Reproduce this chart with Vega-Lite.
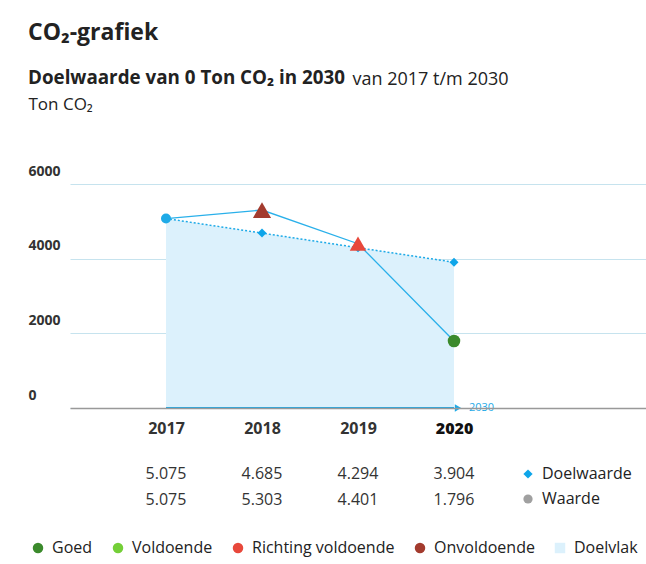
{
  "$schema": "https://vega.github.io/schema/vega-lite/v6.json",
  "background": "white",
  "padding": {"left": 28, "top": 22, "right": 0, "bottom": 8},
  "config": {
    "font": "Open Sans",
    "locale": {"number": {"decimal": ",", "thousands": ".", "grouping": [3], "currency": ["€", ""]}},
    "view": {"stroke": null},
    "axisY": {"tickCount": 3, "format": "d", "title": "Ton CO₂", "domain": false, "ticks": false,
      "grid": true, "gridColor": "#c6e3ee", "gridWidth": 1.2, "labelAlign": "left", "labelBaseline": "bottom", "labelPadding": 42,
      "labelOffset": -6, "labelFontSize": 14, "labelFontWeight": "bold", "labelColor": "#333333",
      "titleAngle": 0, "titleAlign": "left", "titleBaseline": "middle", "titleX": -42, "titleY": -80,
      "titleFontSize": 17, "titleFontWeight": "normal", "titleColor": "#222222"}
  },
  "title": {
    "text": "CO₂-grafiek",
    "subtitle": "Doelwaarde van 0 Ton CO₂ in 2030",
    "anchor": "start",
    "frame": "bounds",
    "fontSize": 23,
    "fontWeight": "bold",
    "color": "#222222",
    "subtitleFontSize": 18.8,
    "subtitleFontWeight": "bold",
    "subtitleColor": "#222222",
    "subtitlePadding": 24,
    "offset": -18
  },
  "datasets": {
    "co2": [
      {"jaar": 2017, "Doelwaarde": 5075, "Waarde": 5075, "status": "Start"},
      {"jaar": 2018, "Doelwaarde": 4685, "Waarde": 5303, "status": "Onvoldoende"},
      {"jaar": 2019, "Doelwaarde": 4294, "Waarde": 4401, "status": "Richting voldoende"},
      {"jaar": 2020, "Doelwaarde": 3904, "Waarde": 1796, "status": "Goed"}
    ],
    "pijl": [{"van": 2017, "tot": 2020, "nul": 0, "doeljaar": "2030"}]
  },
  "bounds": "flush",
  "spacing": 66,
  "resolve": {"scale": {"x": "shared", "shape": "independent", "size": "independent", "fill": "independent"}},
  "vconcat": [
    {
      "width": 576,
      "height": 224,
      "data": {"name": "co2"},
      "resolve": {"axis": {"x": "independent"}},
      "layer": [
        {
          "mark": {"type": "area", "opacity": 1},
          "encoding": {
            "x": {"field": "jaar", "type": "quantitative", "scale": {"domain": [2016, 2022], "nice": false, "zero": false},
              "axis": {"values": [2017, 2018, 2019, 2020], "format": "d", "title": null, "ticks": false, "grid": false,
                "domainColor": "#999999", "domainWidth": 1.5, "labelFontSize": 16, "labelPadding": 12,
                "labelFontWeight": {"condition": {"test": "datum.value == 2020", "value": 800}, "value": 700},
                "labelColor": {"condition": {"test": "datum.value == 2020", "value": "#111111"}, "value": "#333333"},
                "zindex": 1}},
            "y": {"field": "Doelwaarde", "type": "quantitative", "scale": {"domain": [0, 6000], "nice": false}, "title": "Ton CO₂"},
            "color": {"datum": "Doelvlak", "type": "nominal", "title": null,
              "scale": {"domain": ["Goed", "Voldoende", "Richting voldoende", "Onvoldoende", "Doelvlak", "Start"],
                "range": ["#3b8a2c", "#74cf38", "#e8483b", "#a33b2e", "#dcf1fc", "#1eaae7"]},
              "legend": {"title": null, "orient": "none", "legendX": -40, "legendY": 356, "direction": "horizontal",
                "values": ["Goed", "Voldoende", "Richting voldoende", "Onvoldoende", "Doelvlak"],
                "labelFontSize": 16, "labelColor": "#222222", "symbolSize": 110, "symbolType": "circle",
                "symbolStrokeWidth": 0, "symbolOpacity": 1, "columnPadding": 17, "labelOffset": 6, "padding": 0,
                "encode": {"symbols": {"update": {"shape": {"signal": "datum.value === 'Doelvlak' ? 'square' : 'circle'"}}}}}}
          }
        },
        {
          "mark": {"type": "line", "color": "#1eaae7", "strokeWidth": 1.5, "strokeDash": [2, 2]},
          "encoding": {
            "x": {"field": "jaar", "type": "quantitative", "axis": null},
            "y": {"field": "Doelwaarde", "type": "quantitative", "title": "Ton CO₂"}
          }
        },
        {
          "transform": [{"filter": "datum.jaar > 2017"}],
          "mark": {"type": "point", "shape": "diamond", "filled": true, "size": 80, "color": "#0ea5e9", "opacity": 1},
          "encoding": {
            "x": {"field": "jaar", "type": "quantitative", "axis": null},
            "y": {"field": "Doelwaarde", "type": "quantitative", "title": "Ton CO₂"}
          }
        },
        {
          "mark": {"type": "line", "color": "#2ab0ea", "strokeWidth": 1.3},
          "encoding": {
            "x": {"field": "jaar", "type": "quantitative", "axis": null},
            "y": {"field": "Waarde", "type": "quantitative", "title": "Ton CO₂"}
          }
        },
        {
          "mark": {"type": "point", "filled": true, "opacity": 1},
          "encoding": {
            "x": {"field": "jaar", "type": "quantitative", "axis": null},
            "y": {"field": "Waarde", "type": "quantitative", "title": "Ton CO₂"},
            "color": {"field": "status", "type": "nominal", "title": null},
            "shape": {"field": "status", "type": "nominal", "legend": null,
              "scale": {"domain": ["Start", "Goed", "Voldoende", "Richting voldoende", "Onvoldoende"],
                "range": ["circle", "circle", "circle", "triangle-up", "triangle-up"]}},
            "size": {"field": "status", "type": "nominal", "legend": null,
              "scale": {"domain": ["Start", "Goed", "Voldoende", "Richting voldoende", "Onvoldoende"],
                "range": [100, 330, 330, 340, 340]}}
          }
        },
        {
          "data": {"name": "pijl"},
          "mark": {"type": "rule", "color": "#1eaae7", "strokeWidth": 2},
          "encoding": {
            "x": {"field": "van", "type": "quantitative",
              "axis": {"orient": "top", "labels": false, "ticks": false, "domain": false, "grid": false,
                "title": "van 2017 t/m 2030", "titleX": 282, "titleY": -105, "titleAlign": "left", "titleBaseline": "middle",
                "titleFontSize": 18, "titleFontWeight": "normal", "titleColor": "#222222"}},
            "x2": {"field": "tot"},
            "y": {"field": "nul", "type": "quantitative", "title": "Ton CO₂"}
          }
        },
        {
          "data": {"name": "pijl"},
          "mark": {"type": "point", "shape": "triangle-right", "filled": true, "size": 55, "color": "#1eaae7", "opacity": 1, "xOffset": 4},
          "encoding": {
            "x": {"field": "tot", "type": "quantitative", "axis": null},
            "y": {"field": "nul", "type": "quantitative", "title": "Ton CO₂"}
          }
        },
        {
          "data": {"name": "pijl"},
          "mark": {"type": "text", "align": "left", "baseline": "middle", "dx": 15, "fontSize": 11, "color": "#1eaae7"},
          "encoding": {
            "x": {"field": "tot", "type": "quantitative", "axis": null},
            "y": {"field": "nul", "type": "quantitative", "title": "Ton CO₂"},
            "text": {"field": "doeljaar"}
          }
        }
      ]
    },
    {
      "width": 576,
      "height": 26,
      "data": {"name": "co2"},
      "transform": [{"fold": ["Doelwaarde", "Waarde"], "as": ["reeks", "ton"]}],
      "layer": [
        {
          "mark": {"type": "text", "fontSize": 16, "color": "#333333", "fontWeight": 500, "baseline": "middle"},
          "encoding": {
            "x": {"field": "jaar", "type": "quantitative", "axis": null},
            "y": {"field": "reeks", "type": "nominal", "axis": null, "scale": {"type": "point", "padding": 0, "domain": ["Doelwaarde", "Waarde"]}},
            "text": {"field": "ton", "type": "quantitative", "format": ",d"}
          }
        },
        {
          "mark": {"type": "point", "filled": true, "opacity": 0},
          "encoding": {
            "x": {"field": "jaar", "type": "quantitative", "axis": null},
            "y": {"field": "reeks", "type": "nominal", "axis": null},
            "shape": {"field": "reeks", "type": "nominal", "scale": {"domain": ["Doelwaarde", "Waarde"], "range": ["diamond", "circle"]},
              "legend": {"title": null, "orient": "none", "legendX": 450, "legendY": -8, "labelFontSize": 16, "labelColor": "#222222",
                "symbolSize": 85, "symbolOpacity": 1, "symbolStrokeWidth": 0, "rowPadding": 9, "labelOffset": 6, "padding": 0}},
            "fill": {"field": "reeks", "type": "nominal", "scale": {"domain": ["Doelwaarde", "Waarde"], "range": ["#0ea5e9", "#a0a0a0"]},
              "legend": {"title": null, "orient": "none", "legendX": 450, "legendY": -8, "labelFontSize": 16, "labelColor": "#222222",
                "symbolSize": 85, "symbolOpacity": 1, "symbolStrokeWidth": 0, "rowPadding": 9, "labelOffset": 6, "padding": 0}}
          }
        }
      ]
    }
  ]
}
